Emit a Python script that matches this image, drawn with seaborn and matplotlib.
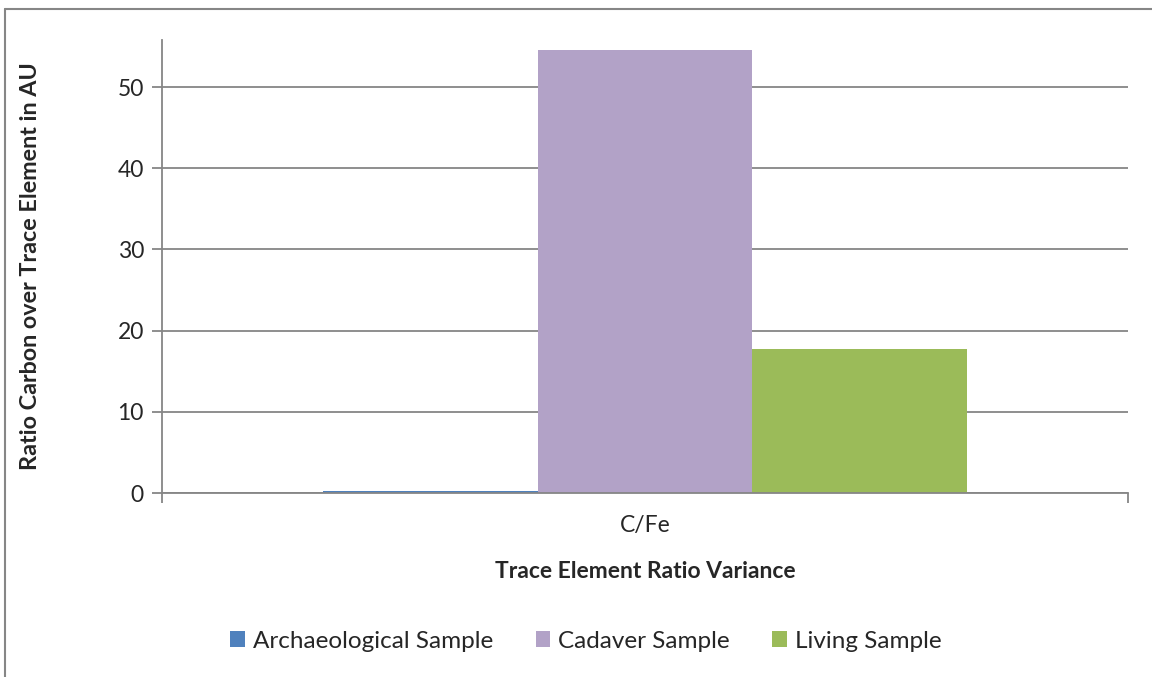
import matplotlib
matplotlib.use("Agg")
import matplotlib.pyplot as plt
import seaborn as sns
import pandas as pd
from matplotlib.lines import Line2D

categories = ["C/Fe"]
series = ["Archaeological Sample", "Cadaver Sample", "Living Sample"]
values = [0.2, 54.6, 17.7]
colors = ["#4F81BD", "#B2A2C7", "#9BBB59"]
yticks = [0, 10, 20, 30, 40, 50]

df = pd.DataFrame({"category": categories * len(series), "series": series, "value": values})

sns.set_theme(style="white")
plt.rcParams["font.family"] = ["Lato", "DejaVu Sans"]

fig = plt.figure(figsize=(11.52, 6.77), dpi=100)
ax = fig.add_axes([162/1152, 1 - 493/677, (1128-162)/1152, (493-40)/677])

sns.barplot(data=df, x="category", y="value", hue="series", palette=colors,
            hue_order=series, width=0.666, ax=ax, legend=True, saturation=1,
            linewidth=0, edgecolor="none")

ax.set_xlim(-0.5, 0.5)
ax.set_ylim(0, 55.8)
ax.set_yticks(yticks)
ax.yaxis.grid(True, color="#868686", lw=1.3)
ax.set_axisbelow(True)
for s in ["top", "right"]:
    ax.spines[s].set_visible(False)
for s in ["left", "bottom"]:
    ax.spines[s].set_color("#868686")
    ax.spines[s].set_linewidth(1.3)

ax.tick_params(axis="y", length=7, width=1.3, color="#868686", labelsize=16.5, pad=6, left=True)
ax.tick_params(axis="x", which="major", length=0, labelsize=16.5, pad=16)
ax.set_xticks([-0.5, 0.5], minor=True)
ax.tick_params(axis="x", which="minor", length=7, width=1.3, color="#868686", bottom=True)

ax.set_xlabel("Trace Element Ratio Variance", fontsize=16.5, fontweight="bold")
ax.set_ylabel("Ratio Carbon over Trace Element in AU", fontsize=16.8, fontweight="bold")
ax.xaxis.set_label_coords(0.5, -(561 - 493) / 453)
ax.yaxis.set_label_coords((41 - 162) / 966, 0.5)

leg = ax.legend(loc="center", bbox_to_anchor=(586/1152, 1 - 641/677), bbox_transform=fig.transFigure,
                ncol=3, frameon=False, fontsize=17.5, handlelength=0.6, handleheight=0.6,
                handletextpad=0.33, columnspacing=1.75)

# outer chart border
fig.add_artist(Line2D([5/1152, 5/1152], [0, 1 - 9/677], color="#868686", lw=1.5, transform=fig.transFigure))
fig.add_artist(Line2D([5/1152, 1], [1 - 9/677, 1 - 9/677], color="#868686", lw=1.5, transform=fig.transFigure))

fig.savefig("out.png", dpi=100, facecolor="white")
